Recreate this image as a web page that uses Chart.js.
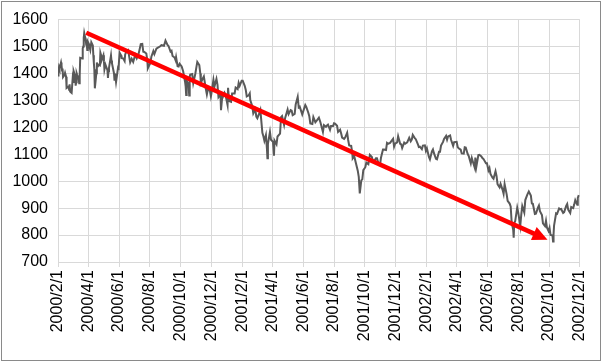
<!DOCTYPE html>
<html lang="ja">
<head>
  <meta charset="UTF-8" />
  <title>Index 2000-2002</title>
  <script src="https://cdn.jsdelivr.net/npm/chart.js"></script>
  <style>
    * { margin: 0; padding: 0; box-sizing: border-box; }
    body { background: #fff; width: 602px; height: 362px; overflow: hidden; }
    #wrap { position: relative; width: 602px; height: 362px; }
    #frame {
      position: absolute; left: 1px; top: 1px; width: 600px; height: 360px;
      border: 1px solid #8a8a8a; pointer-events: none;
    }
  </style>
</head>
<body>
  <div id="wrap">
    <canvas id="grafico" width="602" height="362"></canvas>
    <div id="frame"></div>
  </div>

  <script>
    // x axis labels (date axis, every 2 months)
    const tickLabels = [
      '2000/2/1', '2000/4/1', '2000/6/1', '2000/8/1', '2000/10/1', '2000/12/1',
      '2001/2/1', '2001/4/1', '2001/6/1', '2001/8/1', '2001/10/1', '2001/12/1',
      '2002/2/1', '2002/4/1', '2002/6/1', '2002/8/1', '2002/10/1', '2002/12/1'
    ];
    const yTicks = { min: 700, max: 1600, step: 100 };

    // [month-day, value]
    const y2000 = [
      ['02-01', 1392], ['02-02', 1410], ['02-03', 1424], ['02-04', 1418], ['02-07', 1441], ['02-08', 1430],
      ['02-09', 1411], ['02-10', 1418], ['02-11', 1387], ['02-14', 1395], ['02-15', 1402], ['02-17', 1388],
      ['02-18', 1346], ['02-22', 1352], ['02-23', 1340], ['02-24', 1360], ['02-25', 1333], ['02-28', 1328],
      ['03-01', 1379], ['03-02', 1368], ['03-03', 1409], ['03-06', 1391], ['03-07', 1355], ['03-08', 1367],
      ['03-09', 1401], ['03-10', 1395], ['03-13', 1380], ['03-14', 1364], ['03-15', 1392], ['03-16', 1458],
      ['03-20', 1456], ['03-21', 1493], ['03-22', 1500], ['03-23', 1532], ['03-24', 1550], ['03-27', 1523],
      ['03-28', 1507], ['03-29', 1508], ['03-30', 1487], ['03-31', 1518], ['04-03', 1506], ['04-04', 1494],
      ['04-05', 1487], ['04-07', 1516], ['04-10', 1504], ['04-11', 1468], ['04-12', 1440], ['04-13', 1416],
      ['04-14', 1345], ['04-17', 1401], ['04-18', 1441], ['04-19', 1427], ['04-20', 1434], ['04-24', 1430],
      ['04-25', 1477], ['04-27', 1464], ['04-28', 1452], ['05-01', 1468], ['05-02', 1446], ['05-03', 1415],
      ['05-05', 1433], ['05-09', 1412], ['05-10', 1383], ['05-11', 1408], ['05-12', 1420], ['05-16', 1467],
      ['05-17', 1447], ['05-18', 1437], ['05-22', 1400], ['05-23', 1373], ['05-24', 1399], ['05-26', 1368],
      ['05-30', 1422], ['05-31', 1420], ['06-02', 1477], ['06-05', 1467], ['06-06', 1457], ['06-09', 1456],
      ['06-12', 1446], ['06-13', 1470], ['06-15', 1479], ['06-19', 1486], ['06-22', 1452], ['06-23', 1441],
      ['06-26', 1455], ['06-29', 1443], ['07-03', 1469], ['07-06', 1456], ['07-10', 1475], ['07-12', 1492],
      ['07-14', 1509], ['07-17', 1510], ['07-19', 1481], ['07-21', 1480], ['07-25', 1474], ['07-27', 1449],
      ['07-28', 1419], ['07-31', 1431], ['08-02', 1438], ['08-04', 1462], ['08-08', 1483], ['08-10', 1472],
      ['08-14', 1492], ['08-17', 1496], ['08-21', 1500], ['08-24', 1505], ['08-29', 1503], ['09-01', 1522],
      ['09-05', 1506], ['09-07', 1502], ['09-11', 1481], ['09-13', 1484], ['09-15', 1465], ['09-19', 1459],
      ['09-21', 1449], ['09-22', 1460], ['09-25', 1427], ['09-27', 1426], ['09-29', 1436], ['10-03', 1426],
      ['10-06', 1408], ['10-10', 1366], ['10-11', 1351], ['10-12', 1320], ['10-13', 1374], ['10-16', 1363],
      ['10-17', 1349], ['10-18', 1318], ['10-19', 1388], ['10-20', 1396], ['10-24', 1398], ['10-26', 1364],
      ['10-30', 1398], ['11-01', 1421], ['11-03', 1443], ['11-07', 1431], ['11-09', 1400], ['11-10', 1365],
      ['11-14', 1382], ['11-16', 1389], ['11-20', 1342], ['11-22', 1322], ['11-24', 1341], ['11-28', 1336],
      ['11-30', 1315], ['12-01', 1325], ['12-05', 1376], ['12-07', 1351], ['12-11', 1380], ['12-13', 1359],
      ['12-15', 1312], ['12-19', 1322], ['12-20', 1264], ['12-22', 1305], ['12-27', 1328], ['12-29', 1320]
    ];
    const y2001 = [
      ['01-02', 1283], ['01-03', 1347], ['01-05', 1298], ['01-09', 1295], ['01-11', 1326], ['01-16', 1326],
      ['01-18', 1348], ['01-22', 1342], ['01-24', 1365], ['01-26', 1354], ['01-30', 1373], ['02-01', 1373],
      ['02-05', 1354], ['02-07', 1340], ['02-09', 1315], ['02-13', 1319], ['02-15', 1326], ['02-16', 1301],
      ['02-20', 1278], ['02-22', 1252], ['02-26', 1267], ['02-28', 1240], ['03-02', 1234], ['03-06', 1253],
      ['03-08', 1264], ['03-12', 1180], ['03-14', 1167], ['03-16', 1150], ['03-19', 1171], ['03-21', 1122],
      ['03-22', 1085], ['03-23', 1139], ['03-27', 1183], ['03-29', 1154], ['04-02', 1146], ['04-04', 1095],
      ['04-05', 1151], ['04-09', 1137], ['04-11', 1166], ['04-16', 1177], ['04-18', 1238], ['04-20', 1242],
      ['04-24', 1209], ['04-26', 1234], ['05-01', 1266], ['05-03', 1249], ['05-07', 1264], ['05-09', 1262],
      ['05-11', 1245], ['05-15', 1250], ['05-17', 1285], ['05-21', 1313], ['05-23', 1274], ['05-25', 1277],
      ['05-30', 1248], ['06-01', 1260], ['06-05', 1283], ['06-07', 1276], ['06-11', 1254], ['06-13', 1241],
      ['06-15', 1214], ['06-19', 1212], ['06-21', 1238], ['06-25', 1219], ['06-28', 1226], ['07-02', 1236],
      ['07-05', 1219], ['07-10', 1183], ['07-12', 1208], ['07-16', 1202], ['07-18', 1207], ['07-20', 1210],
      ['07-24', 1191], ['07-26', 1205], ['07-30', 1205], ['08-01', 1215], ['08-03', 1214], ['08-07', 1206],
      ['08-09', 1183], ['08-13', 1191], ['08-15', 1178], ['08-17', 1162], ['08-21', 1157], ['08-23', 1162],
      ['08-27', 1180], ['08-29', 1153], ['08-31', 1133], ['09-04', 1131], ['09-06', 1107], ['09-07', 1085],
      ['09-10', 1093], ['09-17', 1039], ['09-19', 1016], ['09-20', 985], ['09-21', 955], ['09-24', 1003],
      ['09-26', 1007], ['09-28', 1041], ['10-02', 1052], ['10-04', 1069], ['10-08', 1063], ['10-11', 1098],
      ['10-15', 1090], ['10-17', 1074], ['10-19', 1073], ['10-23', 1085], ['10-25', 1085], ['10-29', 1060],
      ['10-31', 1059], ['11-02', 1087], ['11-06', 1118], ['11-08', 1118], ['11-12', 1116], ['11-14', 1142],
      ['11-16', 1139], ['11-20', 1142], ['11-26', 1157], ['11-28', 1128], ['11-30', 1139], ['12-04', 1144],
      ['12-06', 1167], ['12-10', 1139], ['12-12', 1137], ['12-14', 1123], ['12-18', 1143], ['12-20', 1139],
      ['12-24', 1144], ['12-28', 1161], ['12-31', 1148]
    ];
    const y2002 = [
      ['01-02', 1154], ['01-04', 1172], ['01-08', 1160], ['01-10', 1156], ['01-14', 1138], ['01-16', 1127],
      ['01-18', 1128], ['01-22', 1119], ['01-24', 1132], ['01-28', 1133], ['01-30', 1113], ['02-01', 1122],
      ['02-05', 1090], ['02-07', 1081], ['02-11', 1111], ['02-13', 1118], ['02-15', 1104], ['02-19', 1083],
      ['02-21', 1081], ['02-25', 1109], ['02-27', 1109], ['03-01', 1132], ['03-05', 1146], ['03-07', 1157],
      ['03-11', 1168], ['03-13', 1154], ['03-15', 1166], ['03-19', 1170], ['03-21', 1153], ['03-25', 1131],
      ['03-27', 1145], ['04-01', 1146], ['04-03', 1127], ['04-05', 1122], ['04-09', 1117], ['04-11', 1103],
      ['04-15', 1102], ['04-17', 1126], ['04-19', 1125], ['04-23', 1100], ['04-25', 1093], ['04-29', 1066],
      ['05-01', 1086], ['05-03', 1073], ['05-07', 1049], ['05-08', 1088], ['05-10', 1054], ['05-14', 1097],
      ['05-16', 1098], ['05-20', 1092], ['05-22', 1086], ['05-24', 1083], ['05-29', 1067], ['05-31', 1067],
      ['06-03', 1040], ['06-05', 1049], ['06-07', 1027], ['06-11', 1013], ['06-13', 1009], ['06-17', 1037],
      ['06-19', 1020], ['06-21', 989], ['06-25', 977], ['06-27', 990], ['07-01', 968], ['07-03', 953],
      ['07-05', 989], ['07-09', 952], ['07-11', 927], ['07-15', 917], ['07-17', 906], ['07-19', 847],
      ['07-22', 820], ['07-23', 790], ['07-24', 844], ['07-26', 852], ['07-30', 902], ['08-01', 884],
      ['08-05', 834], ['08-07', 876], ['08-09', 908], ['08-13', 884], ['08-15', 930], ['08-19', 950],
      ['08-22', 962], ['08-26', 947], ['08-28', 917], ['08-30', 916], ['09-03', 878], ['09-05', 879],
      ['09-09', 902], ['09-11', 910], ['09-13', 889], ['09-17', 874], ['09-19', 843], ['09-23', 833],
      ['09-25', 853], ['09-27', 827], ['09-30', 815], ['10-02', 827], ['10-04', 800], ['10-08', 798],
      ['10-09', 776], ['10-10', 803], ['10-11', 835], ['10-15', 881], ['10-17', 879], ['10-21', 899],
      ['10-23', 896], ['10-25', 897], ['10-29', 882], ['10-31', 885], ['11-04', 908], ['11-06', 915],
      ['11-08', 894], ['11-12', 882], ['11-14', 904], ['11-18', 900], ['11-20', 914], ['11-22', 930],
      ['11-26', 913], ['11-27', 938], ['11-29', 948]
    ];

    // red trend arrow: [date, value] at start and tip
    const arrowFrom = ['2000-03-28', 1551];
    const arrowTo = ['2002-09-28', 783];

    const base = Date.UTC(2000, 1, 1);
    function dayOf(y, m, d) {
      return (Date.UTC(y, m - 1, d) - base) / 86400000;
    }
    function dayOfIso(s) {
      const p = s.split('-').map(Number);
      return dayOf(p[0], p[1], p[2]);
    }

    const serie = [];
    [[2000, y2000], [2001, y2001], [2002, y2002]].forEach(([ano, lista]) => {
      lista.forEach(([md, v]) => {
        const p = md.split('-').map(Number);
        serie.push({ x: dayOf(ano, p[0], p[1]), y: v });
      });
    });

    const tickDays = tickLabels.map((t) => {
      const p = t.split('/').map(Number);
      return dayOf(p[0], p[1], p[2]);
    });
    const labelByDay = {};
    tickDays.forEach((d, i) => { labelByDay[d] = tickLabels[i]; });

    // draws the arrow through the chart scales
    const setaPlugin = {
      id: 'seta',
      afterDatasetsDraw(chart) {
        const xs = chart.scales.x, ys = chart.scales.y, ctx = chart.ctx;
        const x1 = xs.getPixelForValue(dayOfIso(arrowFrom[0])), y1 = ys.getPixelForValue(arrowFrom[1]);
        const x2 = xs.getPixelForValue(dayOfIso(arrowTo[0])), y2 = ys.getPixelForValue(arrowTo[1]);
        const ang = Math.atan2(y2 - y1, x2 - x1);
        const headLen = 15, headW = 7;
        const bx = x2 - headLen * Math.cos(ang), by = y2 - headLen * Math.sin(ang);
        ctx.save();
        ctx.strokeStyle = '#ff0000';
        ctx.fillStyle = '#ff0000';
        ctx.lineWidth = 4.5;
        ctx.lineCap = 'butt';
        ctx.beginPath();
        ctx.moveTo(x1, y1);
        ctx.lineTo(bx + 2 * Math.cos(ang), by + 2 * Math.sin(ang));
        ctx.stroke();
        ctx.beginPath();
        ctx.moveTo(x2, y2);
        ctx.lineTo(bx + headW * Math.sin(ang), by - headW * Math.cos(ang));
        ctx.lineTo(bx - headW * Math.sin(ang), by + headW * Math.cos(ang));
        ctx.closePath();
        ctx.fill();
        ctx.restore();
      }
    };

    const fonte = { family: "'Liberation Sans', Arial, sans-serif", size: 16 };

    new Chart(document.getElementById('grafico').getContext('2d'), {
      type: 'line',
      data: {
        datasets: [{
          data: serie,
          borderColor: '#595959',
          borderWidth: 2,
          pointRadius: 0,
          tension: 0,
          fill: false
        }]
      },
      options: {
        responsive: false,
        animation: false,
        events: [],
        layout: { padding: { top: 19, right: 20, bottom: 0, left: 0 } },
        plugins: { legend: { display: false }, tooltip: { enabled: false } },
        scales: {
          x: {
            type: 'linear',
            min: tickDays[0],
            max: tickDays[tickDays.length - 1],
            afterBuildTicks: (axis) => { axis.ticks = tickDays.map((d) => ({ value: d })); },
            afterFit: (axis) => { axis.height = 100; },
            ticks: {
              autoSkip: false,
              maxRotation: 90,
              minRotation: 90,
              padding: 3,
              color: '#000',
              font: fonte,
              callback: (v) => labelByDay[v] || ''
            },
            grid: { color: '#d9d9d9', lineWidth: 1, tickLength: 5 },
            border: { color: '#d9d9d9' }
          },
          y: {
            min: yTicks.min,
            max: yTicks.max,
            afterFit: (axis) => { axis.width = 58; },
            ticks: {
              stepSize: yTicks.step,
              padding: 10,
              color: '#000',
              font: fonte,
              callback: (v) => String(v)
            },
            grid: { color: '#d9d9d9', lineWidth: 1, drawTicks: false },
            border: { display: false }
          }
        }
      },
      plugins: [setaPlugin]
    });
  </script>
</body>
</html>
